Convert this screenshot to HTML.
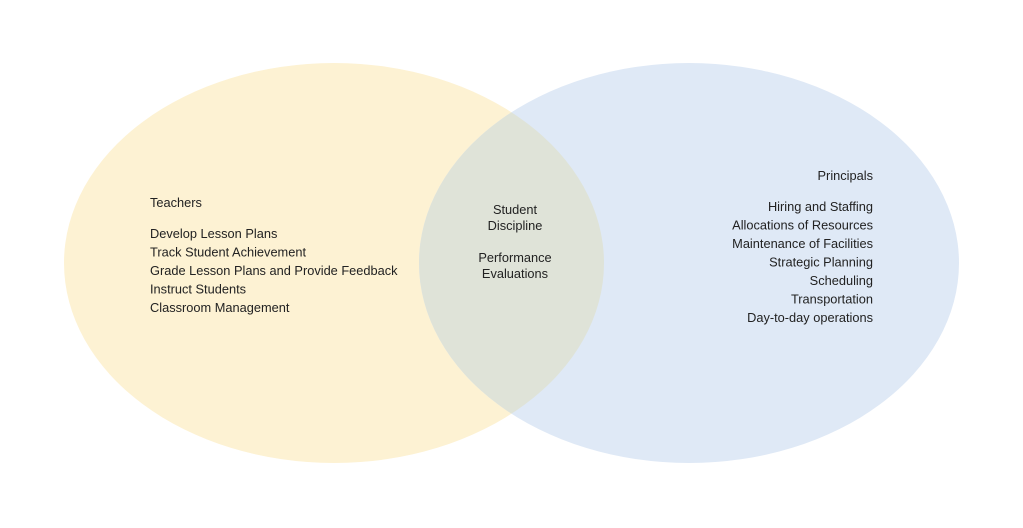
<!DOCTYPE html>
<html><head><meta charset="utf-8"><style>
html,body{margin:0;padding:0;background:#fff;}
svg{display:block}
text{font-family:"Liberation Sans",sans-serif;font-size:12.8px;fill:#222;}
</style></head><body>
<svg width="1023" height="528" viewBox="0 0 1023 528">
<defs><clipPath id="c"><ellipse cx="334" cy="263" rx="270" ry="200"/></clipPath></defs>
<ellipse cx="334" cy="263" rx="270" ry="200" fill="#fdf2d3"/>
<ellipse cx="689" cy="263" rx="270" ry="200" fill="#dfe9f6"/>
<ellipse cx="689" cy="263" rx="270" ry="200" fill="#dfe3d8" clip-path="url(#c)"/>
<g>
<text x="150" y="207">Teachers</text>
<text x="150" y="238">Develop Lesson Plans</text>
<text x="150" y="256.5">Track Student Achievement</text>
<text x="150" y="275">Grade Lesson Plans and Provide Feedback</text>
<text x="150" y="293.5">Instruct Students</text>
<text x="150" y="312">Classroom Management</text>
</g>
<g text-anchor="middle">
<text x="515" y="214">Student</text>
<text x="515" y="230">Discipline</text>
<text x="515" y="262">Performance</text>
<text x="515" y="278">Evaluations</text>
</g>
<g text-anchor="end">
<text x="873" y="180">Principals</text>
<text x="873" y="211">Hiring and Staffing</text>
<text x="873" y="229.5">Allocations of Resources</text>
<text x="873" y="248">Maintenance of Facilities</text>
<text x="873" y="266.5">Strategic Planning</text>
<text x="873" y="285">Scheduling</text>
<text x="873" y="303.5">Transportation</text>
<text x="873" y="322">Day-to-day operations</text>
</g>
</svg>
</body></html>
